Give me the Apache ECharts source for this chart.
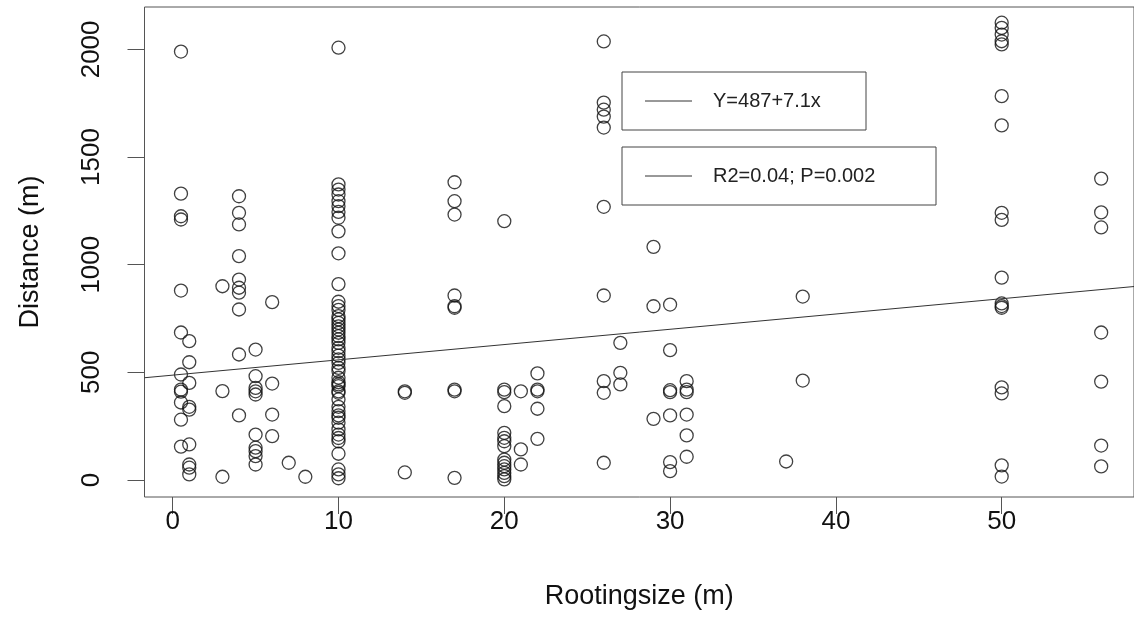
<!DOCTYPE html>
<html>
<head>
<meta charset="utf-8">
<script src="https://cdn.jsdelivr.net/npm/echarts@6/dist/echarts.min.js"></script>
<style>
  html, body { margin: 0; padding: 0; background: #fff; }
  #chart { width: 1134px; height: 640px; }
</style>
</head>
<body>
<div id="chart"></div>
<script>
// rooting size classes (m) and the distances (m) observed for each
var rootingSizes = [0.5, 1, 3, 4, 5, 6, 7, 8, 10, 14, 17, 20, 21, 22, 26, 27, 29, 30, 31, 37, 38, 50, 56];
var distances = [
  [1990, 1330, 1225, 1210, 880, 685, 490, 420, 410, 360, 280, 155],
  [645, 547, 451, 340, 327, 165, 72, 57, 26],
  [900, 413, 15],
  [1318, 1241, 1187, 1040, 931, 893, 870, 792, 583, 300],
  [606, 482, 428, 412, 397, 211, 150, 134, 111, 72],
  [826, 448, 304, 204],
  [80],
  [15],
  [2008, 1373, 1349, 1326, 1295, 1272, 1245, 1218, 1155, 1053, 910, 828, 808, 790, 761, 746, 730, 714, 699, 684,
   668, 653, 637, 614, 598, 578, 560, 544, 521, 505, 475, 454, 444, 436, 412, 405, 374, 340, 320, 300,
   289, 266, 235, 211, 195, 180, 122, 49, 26, 8],
  [412, 405, 35],
  [1383, 1295, 1233, 857, 807, 800, 420, 412, 10],
  [1202, 420, 408, 343, 219, 196, 180, 157, 95, 80, 64, 49, 33, 18, 3],
  [412, 142, 72],
  [495, 420, 412, 331, 191],
  [2037, 1753, 1720, 1688, 1637, 1269, 857, 459, 405, 80],
  [637, 498, 444],
  [1083, 807, 284],
  [815, 603, 417, 408, 300, 83, 41],
  [459, 420, 408, 304, 207, 108],
  [86],
  [852, 462],
  [2124, 2100, 2069, 2038, 2023, 1783, 1647, 1241, 1208, 940, 820, 808, 800, 430, 402, 68, 16],
  [1400, 1243, 1173, 685, 457, 160, 63]
];
var xTicks = [0, 10, 20, 30, 40, 50];
var yTicks = [0, 500, 1000, 1500, 2000];
var intercept = 487;
var slope = 7.1;
var legendTexts = ['Y=487+7.1x', 'R2=0.04; P=0.002'];

var xMin = -1.7, xMax = 57.98;
var yMin = -79, yMax = 2197;

var points = [];
rootingSizes.forEach(function (x, i) {
  distances[i].forEach(function (d) { points.push([x, d]); });
});
var fitLine = [[xMin, intercept + slope * xMin], [xMax, intercept + slope * xMax]];

var font = '"Liberation Sans", Arial, Helvetica, sans-serif';
var chart = echarts.init(document.getElementById('chart'));

// legend boxes, drawn like R's legend()
function legendBox(x, y, w, h, label) {
  return {
    type: 'group',
    children: [
      { type: 'rect', shape: { x: x, y: y, width: w, height: h },
        style: { fill: 'none', stroke: '#444', lineWidth: 1 } },
      { type: 'line', shape: { x1: x + 23, y1: y + h / 2, x2: x + 70, y2: y + h / 2 },
        style: { stroke: '#333', lineWidth: 1 } },
      { type: 'text', x: x + 91, y: y + h / 2,
        style: { text: label, fontSize: 20, fontFamily: font, fill: '#222', verticalAlign: 'middle' } }
    ]
  };
}

chart.setOption({
  animation: false,
  grid: {
    left: 144.5, top: 7, right: -3, bottom: 143,
    show: true, borderColor: '#555', borderWidth: 1, backgroundColor: 'transparent'
  },
  xAxis: {
    type: 'value', min: xMin, max: xMax,
    name: 'Rootingsize (m)', nameLocation: 'middle', nameGap: 86,
    nameTextStyle: { fontSize: 27, fontFamily: font, color: '#111' },
    axisLine: { show: false, onZero: false },
    splitLine: { show: false },
    axisTick: { show: true, inside: false, length: 17, customValues: xTicks, lineStyle: { color: '#555' } },
    axisLabel: { customValues: xTicks, margin: 12, fontSize: 26, fontFamily: font, color: '#111',
      formatter: function (v) { return String(v); } }
  },
  yAxis: {
    type: 'value', min: yMin, max: yMax,
    name: 'Distance (m)', nameLocation: 'middle', nameGap: 100,
    nameTextStyle: { fontSize: 27, fontFamily: font, color: '#111' },
    axisLine: { show: false, onZero: false },
    splitLine: { show: false },
    axisTick: { show: true, inside: false, length: 17, customValues: yTicks, lineStyle: { color: '#555' } },
    axisLabel: { customValues: yTicks, rotate: 90, margin: 40, fontSize: 26, fontFamily: font, color: '#111',
      formatter: function (v) { return String(v); } }
  },
  series: [
    {
      type: 'scatter',
      data: points,
      symbol: 'circle',
      symbolSize: 13,
      itemStyle: { color: 'rgba(0,0,0,0)', borderColor: '#111', borderWidth: 1.3 },
      silent: true
    },
    {
      type: 'line',
      data: fitLine,
      showSymbol: false,
      symbol: 'none',
      lineStyle: { color: '#333', width: 1 },
      silent: true
    }
  ],
  graphic: [
    legendBox(622, 72, 244, 58, legendTexts[0]),
    legendBox(622, 147, 314, 58, legendTexts[1])
  ]
});
</script>
</body>
</html>
